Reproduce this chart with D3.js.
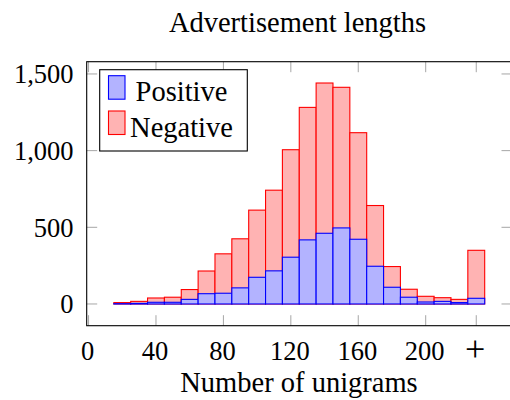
<!DOCTYPE html>
<html>
<head>
<meta charset="utf-8">
<script src="https://cdn.jsdelivr.net/npm/d3@7"></script>
<style>
  html, body { margin: 0; padding: 0; background: #fff; }
  svg { display: block; font-family: "Liberation Serif", "Times New Roman", serif; }
</style>
</head>
<body>
<svg id="chart" width="510" height="400"></svg>
<script>
// ---- data ----
const binCenters = [20, 30, 40, 50, 60, 70, 80, 90, 100, 110, 120, 130, 140, 150, 160, 170, 180, 190, 200, 210, 220, 230];
const positiveCounts = [2, 4, 11, 11, 30, 67, 70, 105, 174, 216, 305, 418, 461, 496, 422, 246, 109, 44, 13, 17, 9, 37];
const negativeCounts = [9, 17, 39, 44, 94, 215, 327, 425, 612, 742, 1006, 1282, 1441, 1413, 1117, 642, 244, 96, 50, 41, 30, 350];
const xTickValues = [0, 40, 80, 120, 160, 200, 230];
const xTickLabels = ["0", "40", "80", "120", "160", "200", "+"];
const yTickValues = [0, 500, 1000, 1500];
const seriesNames = ["Positive", "Negative"];
const binWidth = 10;

// ---- layout ----
const plotLeft = 86.7, plotRight = 512, plotTop = 61.7, plotBottom = 325.7;

const svg = d3.select("#chart");

const x = d3.scaleLinear().domain([-1.1, 251.2]).range([plotLeft, plotRight]);
const y = d3.scaleLinear().domain([-141.7, 1580]).range([plotBottom, plotTop]);

const blueStroke = "#0000ff", blueFill = "#b3b3ff";
const redStroke = "#ff0000", redFill = "#ffb3b3";

// Bars: negative (red) behind, positive (blue) in front
const gBars = svg.append("g");
gBars.selectAll("rect.neg").data(binCenters).enter().append("rect")
  .attr("class", "neg")
  .attr("x", (d) => x(d - binWidth / 2))
  .attr("width", (d) => x(d + binWidth / 2) - x(d - binWidth / 2))
  .attr("y", (d, i) => y(negativeCounts[i]))
  .attr("height", (d, i) => y(0) - y(negativeCounts[i]))
  .attr("fill", redFill).attr("stroke", redStroke).attr("stroke-width", 1.1);

gBars.selectAll("rect.pos").data(binCenters).enter().append("rect")
  .attr("class", "pos")
  .attr("x", (d) => x(d - binWidth / 2))
  .attr("width", (d) => x(d + binWidth / 2) - x(d - binWidth / 2))
  .attr("y", (d, i) => y(positiveCounts[i]))
  .attr("height", (d, i) => y(0) - y(positiveCounts[i]))
  .attr("fill", blueFill).attr("stroke", blueStroke).attr("stroke-width", 1.1);

// Ticks (grey, inward, on all four sides)
const tickLen = 10.5;
const tickColor = "#a6a6a6";
const gTicks = svg.append("g").attr("stroke", tickColor).attr("stroke-width", 1);
xTickValues.forEach((v) => {
  gTicks.append("line").attr("x1", x(v)).attr("x2", x(v)).attr("y1", plotBottom).attr("y2", plotBottom - tickLen);
  gTicks.append("line").attr("x1", x(v)).attr("x2", x(v)).attr("y1", plotTop).attr("y2", plotTop + tickLen);
});
yTickValues.forEach((v) => {
  gTicks.append("line").attr("x1", plotLeft).attr("x2", plotLeft + tickLen).attr("y1", y(v)).attr("y2", y(v));
  gTicks.append("line").attr("x1", plotRight).attr("x2", plotRight - tickLen).attr("y1", y(v)).attr("y2", y(v));
});

// Axis frame
svg.append("rect")
  .attr("x", plotLeft).attr("y", plotTop).attr("width", plotRight - plotLeft).attr("height", plotBottom - plotTop)
  .attr("fill", "none").attr("stroke", "#000").attr("stroke-width", 1.1);

// Tick labels
const fmt = d3.format(",");
svg.append("g").selectAll("text").data(yTickValues).enter().append("text")
  .attr("x", 73.5).attr("y", (d) => y(d) + 9.5)
  .attr("text-anchor", "end").attr("font-size", 26.5)
  .text((d) => fmt(d));

svg.append("g").selectAll("text").data(xTickValues).enter().append("text")
  .attr("x", (d) => x(d) - 1)
  .attr("y", (d, i) => xTickLabels[i] === "+" ? 361 : 360)
  .attr("text-anchor", "middle")
  .attr("font-size", (d, i) => xTickLabels[i] === "+" ? 36 : 26.5)
  .text((d, i) => xTickLabels[i]);

// Axis label
svg.append("text").attr("x", 299).attr("y", 391.5)
  .attr("text-anchor", "middle").attr("font-size", 28.5)
  .text("Number of unigrams");

// Title
svg.append("text").attr("x", 297.5).attr("y", 31.5)
  .attr("text-anchor", "middle").attr("font-size", 28.5)
  .text("Advertisement lengths");

// Legend
const lg = svg.append("g");
lg.append("rect").attr("x", 99.7).attr("y", 69.7).attr("width", 147.6).attr("height", 81.3)
  .attr("fill", "#fff").attr("stroke", "#000").attr("stroke-width", 1.1);
const legendItems = [
  { name: seriesNames[0], fill: blueFill, stroke: blueStroke, sy: 75.7, ty: 101 },
  { name: seriesNames[1], fill: redFill, stroke: redStroke, sy: 111, ty: 136.5 }
];
legendItems.forEach((it) => {
  lg.append("rect").attr("x", 108.5).attr("y", it.sy).attr("width", 16.5).attr("height", 23.5)
    .attr("fill", it.fill).attr("stroke", it.stroke).attr("stroke-width", 1.1);
  lg.append("text").attr("x", 181.5).attr("y", it.ty).attr("text-anchor", "middle")
    .attr("font-size", 28.5).text(it.name);
});
</script>
</body>
</html>
